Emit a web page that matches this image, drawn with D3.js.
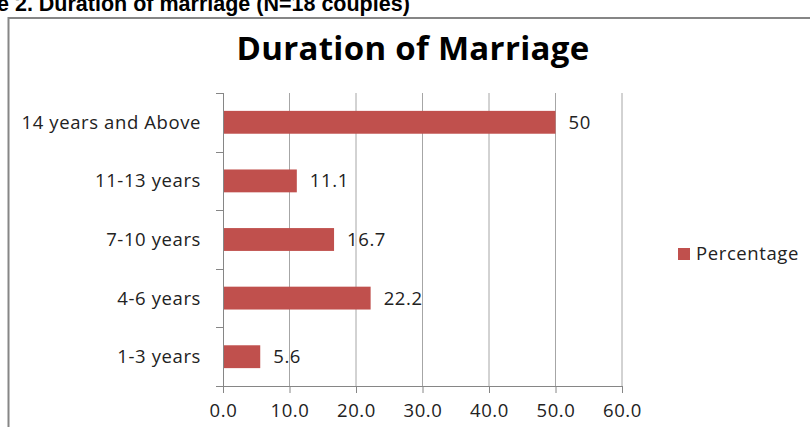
<!DOCTYPE html>
<html>
<head>
<meta charset="utf-8">
<script src="https://cdn.jsdelivr.net/npm/d3@7"></script>
<style>
  body { margin: 0; background: #fff; }
  svg { display: block; }
  text { font-family: "Open Sans", Lato, sans-serif; }
</style>
</head>
<body>
<svg id="chart" width="810" height="427"></svg>
<script>
// chart data, top to bottom as drawn
var categories = ["14 years and Above", "11-13 years", "7-10 years", "4-6 years", "1-3 years"];
var percentages = [50, 11.1, 16.7, 22.2, 5.6];
var valueLabels = ["50", "11.1", "16.7", "22.2", "5.6"];
var xTicks = [0, 10, 20, 30, 40, 50, 60];
var seriesName = "Percentage";

var svg = d3.select("#chart");
var barColor = "#C0504D";
var labelSize = "18.5px";
var labelSpacing = "0.6px";

// plot area
var plot = { left: 223, right: 622, top: 93, bottom: 386 };

// caption of the figure, cut off by the page top
svg.append("text")
    .attr("x", -3)
    .attr("y", 11)
    .style("font-family", "'Liberation Sans', Arial, sans-serif")
    .style("font-weight", "bold")
    .style("font-size", "21.5px")
    .attr("fill", "#000")
    .text("e 2. Duration of marriage (N=18 couples)");

// chart frame
svg.append("rect")
    .attr("x", 8.5)
    .attr("y", 18)
    .attr("width", 900)
    .attr("height", 500)
    .attr("fill", "#fff")
    .attr("stroke", "#868686")
    .attr("stroke-width", 2);

// title
svg.append("text")
    .attr("x", 413)
    .attr("y", 60)
    .attr("text-anchor", "middle")
    .style("font-weight", "bold")
    .style("font-size", "33px")
    .style("letter-spacing", "0.3px")
    .attr("fill", "#000")
    .text("Duration of Marriage");

var x = d3.scaleLinear()
    .domain([0, 60])
    .range([plot.left, plot.right]);

var y = d3.scaleBand()
    .domain(categories)
    .range([plot.top, plot.bottom])
    .paddingInner(0.61)
    .paddingOuter(0.305);

// vertical gridlines
svg.append("g")
    .selectAll("line")
    .data(xTicks.slice(1))
    .enter().append("line")
    .attr("x1", function(d) { return x(d); })
    .attr("x2", function(d) { return x(d); })
    .attr("y1", plot.top)
    .attr("y2", plot.bottom)
    .attr("stroke", "#a6a6a6")
    .attr("stroke-width", 1);

// bars
svg.append("g")
    .selectAll("rect")
    .data(percentages)
    .enter().append("rect")
    .attr("x", x(0))
    .attr("y", function(d, i) { return y(categories[i]); })
    .attr("width", function(d) { return x(d) - x(0); })
    .attr("height", y.bandwidth())
    .attr("fill", barColor);

// value labels
svg.append("g")
    .selectAll("text")
    .data(percentages)
    .enter().append("text")
    .attr("x", function(d) { return x(d) + 13; })
    .attr("y", function(d, i) { return y(categories[i]) + y.bandwidth() / 2; })
    .attr("dy", "0.35em")
    .style("font-size", labelSize)
    .style("letter-spacing", labelSpacing)
    .attr("fill", "#222")
    .text(function(d, i) { return valueLabels[i]; });

// x axis
var xAxis = svg.append("g")
    .attr("transform", "translate(0," + plot.bottom + ")")
    .call(d3.axisBottom(x)
        .tickValues(xTicks)
        .tickSize(7)
        .tickPadding(11)
        .tickFormat(d3.format(".1f")));
xAxis.select(".domain").attr("stroke", "#868686").attr("d", "M" + (plot.left - 7) + ",0.5H" + plot.right);
xAxis.selectAll(".tick line").attr("stroke", "#868686");
xAxis.selectAll(".tick text")
    .style("font-family", "'Open Sans', sans-serif")
    .style("font-size", labelSize)
    .style("letter-spacing", labelSpacing)
    .attr("fill", "#222");

// y axis with ticks between the categories
var yEdges = categories.map(function(c) { return y(c) - y.step() * y.paddingInner() / 2; });
yEdges.push(plot.bottom);
var yAxis = svg.append("g");
yAxis.append("line")
    .attr("x1", plot.left + 0.5)
    .attr("x2", plot.left + 0.5)
    .attr("y1", plot.top)
    .attr("y2", plot.bottom)
    .attr("stroke", "#868686");
yAxis.selectAll(".edge")
    .data(yEdges)
    .enter().append("line")
    .attr("class", "edge")
    .attr("x1", plot.left - 7)
    .attr("x2", plot.left)
    .attr("y1", function(d) { return Math.round(d) + 0.5; })
    .attr("y2", function(d) { return Math.round(d) + 0.5; })
    .attr("stroke", "#868686");
yAxis.selectAll(".cat")
    .data(categories)
    .enter().append("text")
    .attr("class", "cat")
    .attr("x", 201)
    .attr("y", function(d) { return y(d) + y.bandwidth() / 2; })
    .attr("dy", "0.35em")
    .attr("text-anchor", "end")
    .style("font-size", labelSize)
    .style("letter-spacing", labelSpacing)
    .attr("fill", "#222")
    .text(function(d) { return d; });

// legend
var legend = svg.append("g").attr("transform", "translate(678,248)");
legend.append("rect")
    .attr("width", 12)
    .attr("height", 12)
    .attr("fill", barColor);
legend.append("text")
    .attr("x", 18)
    .attr("y", 6)
    .attr("dy", "0.35em")
    .style("font-size", labelSize)
    .style("letter-spacing", labelSpacing)
    .attr("fill", "#222")
    .text(seriesName);
</script>
</body>
</html>
